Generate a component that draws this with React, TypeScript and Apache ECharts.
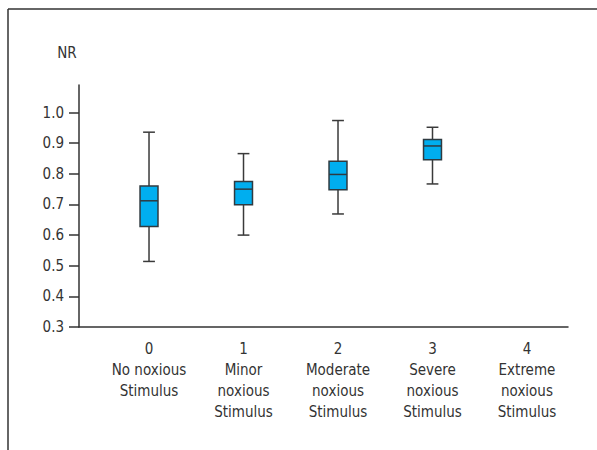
import React, { useEffect, useRef } from "react";
import * as echarts from "echarts";

const categories = [
  "0\nNo noxious\nStimulus",
  "1\nMinor\nnoxious\nStimulus",
  "2\nModerate\nnoxious\nStimulus",
  "3\nSevere\nnoxious\nStimulus",
  "4\nExtreme\nnoxious\nStimulus",
];
const categoryPositions = [0, 1, 2, 3, 4];
// [category index, whisker low, Q1, median, Q3, whisker high]
const boxData = [
  [0, 0.514, 0.628, 0.712, 0.76, 0.936],
  [1, 0.6, 0.699, 0.75, 0.775, 0.866],
  [2, 0.669, 0.748, 0.798, 0.841, 0.974],
  [3, 0.767, 0.846, 0.891, 0.912, 0.952],
];
const yTicks = [0.3, 0.4, 0.5, 0.6, 0.7, 0.8, 0.9, 1.0];
const yName = "NR";

const FONT = "'Liberation Sans Narrow', 'DejaVu Sans Condensed', sans-serif";
const INK = "#333333";

export default function App() {
  const ref = useRef<HTMLDivElement>(null);
  useEffect(() => {
    if (!ref.current) return;
    const chart = echarts.init(ref.current, null, { renderer: "svg" });
    chart.setOption({
      animation: false,
      backgroundColor: "#ffffff",
      grid: { left: 79, right: 29, top: 85, bottom: 123 },
      graphic: [
        { type: "line", shape: { x1: 8, y1: 9, x2: 597, y2: 9 }, style: { stroke: "#333", lineWidth: 1.5 } },
        { type: "line", shape: { x1: 8, y1: 9, x2: 8, y2: 450 }, style: { stroke: "#333", lineWidth: 1.5 } },
        {
          type: "text",
          x: 67,
          y: 53,
          style: { text: yName, font: `15px ${FONT}`, fill: INK, textAlign: "center", textVerticalAlign: "middle" },
        },
      ],
      xAxis: {
        type: "value",
        min: -0.741,
        max: 4.434,
        splitLine: { show: false },
        axisTick: { show: false },
        axisLine: { show: true, onZero: false, lineStyle: { color: INK, width: 1.5 } },
        axisLabel: {
          customValues: categoryPositions,
          formatter: (v: number) => categories[Math.round(v)] ?? "",
          fontFamily: FONT,
          fontSize: 15,
          lineHeight: 21,
          color: INK,
          margin: 11,
          align: "center",
        },
      },
      yAxis: {
        type: "value",
        min: 0.3,
        max: 1.09,
        splitLine: { show: false },
        axisLine: { show: true, onZero: false, lineStyle: { color: INK, width: 1.5 } },
        axisTick: { show: true, length: 10, customValues: yTicks, lineStyle: { color: INK, width: 1.5 } },
        axisLabel: {
          customValues: yTicks,
          formatter: (v: number) => v.toFixed(1),
          fontFamily: FONT,
          fontSize: 15,
          color: INK,
          margin: 15,
        },
      },
      series: [
        {
          type: "custom",
          data: boxData,
          encode: { x: 0, y: [1, 2, 3, 4, 5] },
          renderItem: (params: any, api: any) => {
            const x = api.value(0);
            const lo = api.coord([x, api.value(1)]);
            const q1 = api.coord([x, api.value(2)]);
            const med = api.coord([x, api.value(3)]);
            const q3 = api.coord([x, api.value(4)]);
            const hi = api.coord([x, api.value(5)]);
            const unit = api.size([1, 0])[0];
            const bw = unit * 0.19;
            const cw = unit * 0.125;
            const cx = lo[0];
            const lineStyle = { stroke: "#3a3a3a", lineWidth: 1.5 };
            return {
              type: "group",
              children: [
                { type: "line", shape: { x1: cx, y1: hi[1], x2: cx, y2: q3[1] }, style: lineStyle },
                { type: "line", shape: { x1: cx, y1: q1[1], x2: cx, y2: lo[1] }, style: lineStyle },
                { type: "line", shape: { x1: cx - cw / 2, y1: hi[1], x2: cx + cw / 2, y2: hi[1] }, style: lineStyle },
                { type: "line", shape: { x1: cx - cw / 2, y1: lo[1], x2: cx + cw / 2, y2: lo[1] }, style: lineStyle },
                {
                  type: "rect",
                  shape: { x: cx - bw / 2, y: q3[1], width: bw, height: q1[1] - q3[1] },
                  style: { fill: "#00AEEF", stroke: "#2f3a40", lineWidth: 1.5 },
                },
                { type: "line", shape: { x1: cx - bw / 2, y1: med[1], x2: cx + bw / 2, y2: med[1] }, style: { stroke: "#2f3a40", lineWidth: 1.5 } },
              ],
            };
          },
        },
      ],
    });
    return () => chart.dispose();
  }, []);
  return <div ref={ref} style={{ position: "fixed", left: 0, top: 0, width: 597, height: 450 }} />;
}
